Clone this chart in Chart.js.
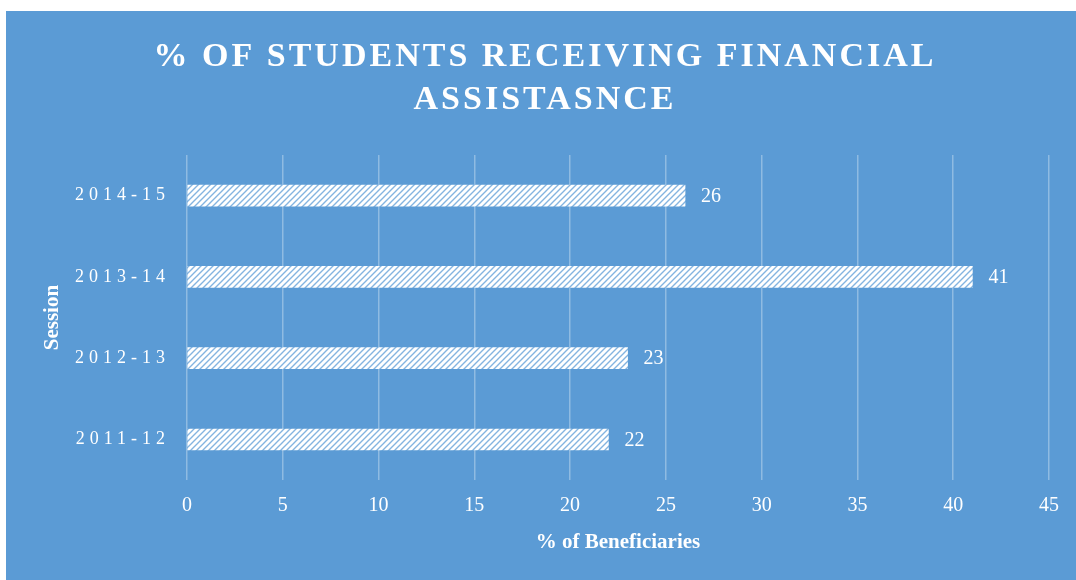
<!DOCTYPE html>
<html>
<head>
<meta charset="utf-8">
<script src="https://cdn.jsdelivr.net/npm/chart.js@4.4.1/dist/chart.umd.min.js"></script>
<style>
  html, body { margin: 0; padding: 0; background: #ffffff; }
  #panel {
    position: absolute; left: 6px; top: 11px;
    width: 1070px; height: 569px;
    background: #5b9bd5;
  }
</style>
</head>
<body>
<div id="panel"><canvas id="chart"></canvas></div>
<script>
// data
var sessions = ['2014-15', '2013-14', '2012-13', '2011-12'];
var beneficiaries = [26, 41, 23, 22];
var titleLines = ['% OF STUDENTS RECEIVING FINANCIAL', 'ASSISTASNCE'];

var SERIF = "'Liberation Serif', 'Times New Roman', serif";

// white fill with blue upward diagonal hatch, like the office pattern fill
const makeHatch = () => {
    let c = document.createElement('canvas');
    c.width = 6; c.height = 6;
    let g = c.getContext('2d');
    g.fillStyle = '#ffffff';
    g.fillRect(0, 0, 6, 6);
    g.strokeStyle = 'rgba(91,155,213,0.75)';
    g.lineWidth = 1.4;
    g.beginPath();
    g.moveTo(-1, 7); g.lineTo(7, -1);
    g.moveTo(-4, 4); g.lineTo(4, -4);
    g.moveTo(2, 10); g.lineTo(10, 2);
    g.stroke();
    return g.createPattern(c, 'repeat');
};

// letter spacing for the title and the session labels only
const spacingPlugin = {
    id: 'spacing',
    beforeDraw: (chart) => {
        let ctx = chart.ctx;
        let t = chart.titleBlock;
        if (t && !t._spaced) {
            let orig = t.draw.bind(t);
            t.draw = (area) => { ctx.save(); ctx.letterSpacing = '3px'; orig(area); ctx.restore(); };
            t._spaced = true;
        }
        let y = chart.scales.y;
        if (y && !y._spaced) {
            let origLabels = y.drawLabels.bind(y);
            y.drawLabels = (area) => { ctx.save(); ctx.letterSpacing = '5px'; origLabels(area); ctx.restore(); };
            y._spaced = true;
        }
    }
};

// value labels at the end of each bar
const valueLabels = {
    id: 'valueLabels',
    afterDatasetsDraw: (chart) => {
        let ctx = chart.ctx;
        let meta = chart.getDatasetMeta(0);
        ctx.save();
        ctx.fillStyle = '#ffffff';
        ctx.font = '20px ' + SERIF;
        ctx.textAlign = 'left';
        ctx.textBaseline = 'middle';
        meta.data.forEach((bar, i) => {
            ctx.fillText(String(chart.data.datasets[0].data[i]), bar.x + 16, bar.y + 1);
        });
        ctx.restore();
    }
};

var ctx = document.getElementById('chart');

var chart = new Chart(ctx, {
    type: 'bar',
    plugins: [spacingPlugin, valueLabels],
    data: {
        labels: sessions,
        datasets: [
            {
                label: '% of Beneficiaries',
                data: beneficiaries,
                backgroundColor: makeHatch(),
                borderWidth: 0,
                barThickness: 21
            }
        ]
    },
    options: {
        indexAxis: 'y',
        responsive: true,
        maintainAspectRatio: false,
        animation: false,
        layout: { padding: { left: 8, right: 0, top: 0, bottom: 0 } },
        plugins: {
            legend: { display: false },
            tooltip: { enabled: false },
            title: {
                display: true,
                text: titleLines,
                color: '#ffffff',
                font: { family: SERIF, size: 34, weight: 'bold', lineHeight: 1.265 },
                padding: { top: 25, bottom: 33 }
            }
        },
        scales: {
            x: {
                min: 0,
                max: 45,
                afterFit: (s) => { s.paddingRight = 27; },
                ticks: {
                    stepSize: 5,
                    color: '#ffffff',
                    padding: 14,
                    font: { family: SERIF, size: 20, lineHeight: 1.14 }
                },
                grid: {
                    color: 'rgba(255,255,255,0.32)',
                    lineWidth: 1.5,
                    drawTicks: false
                },
                border: { display: false },
                title: {
                    display: true,
                    text: '% of Beneficiaries',
                    color: '#ffffff',
                    font: { family: SERIF, size: 21, weight: 'bold', lineHeight: 1.1 },
                    padding: { top: 0, bottom: 26 }
                }
            },
            y: {
                afterFit: (s) => { s.width = 173; },
                ticks: {
                    color: '#ffffff',
                    padding: 9,
                    font: { family: SERIF, size: 18 }
                },
                grid: { display: false },
                border: { display: false },
                title: {
                    display: true,
                    text: 'Session',
                    color: '#ffffff',
                    font: { family: SERIF, size: 21, weight: 'bold', lineHeight: 1.2 },
                    padding: { top: 26, bottom: 0 }
                }
            }
        }
    }
});
</script>
</body>
</html>
